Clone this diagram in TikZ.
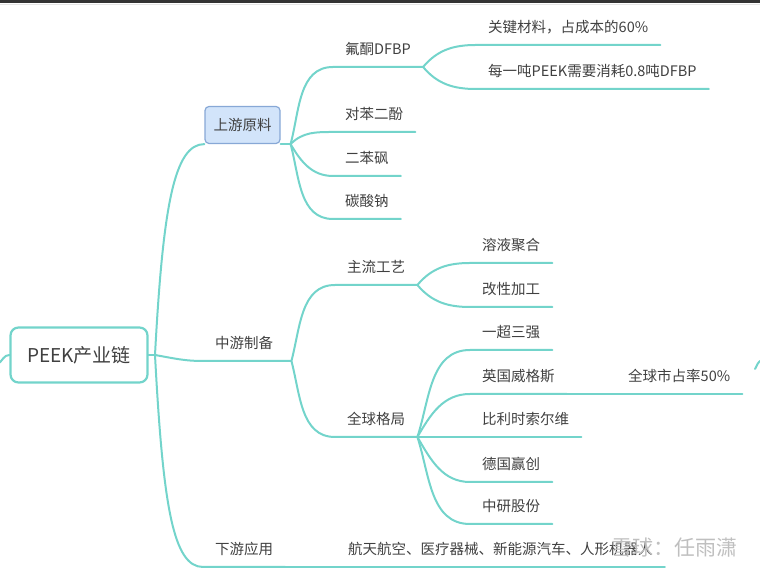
\documentclass[tikz,border=0pt]{standalone}
\usepackage{fontspec}
\setmainfont{Noto Sans CJK SC}
\definecolor{linkc}{RGB}{115,212,203}
\definecolor{txt}{RGB}{64,64,64}
\definecolor{boxfill}{RGB}{210,228,250}
\definecolor{boxdraw}{RGB}{135,168,214}
\newcommand{\leaffont}{\fontsize{14.5}{17}\selectfont}

\begin{document}
\begin{tikzpicture}[x=1pt,y=1pt, line join=round, line cap=round,
	link/.style={draw=linkc, line width=2pt},
	leaf/.style={anchor=south west, minimum height=35pt, inner xsep=12pt, inner ysep=0pt, font=\leaffont, text=txt},
	rootbox/.style={draw=linkc, line width=2.2pt, rounded corners=8pt, fill=white, minimum width=137pt, minimum height=55pt, font=\fontsize{19}{22}\selectfont, text=txt},
	topicbox/.style={draw=boxdraw, line width=1.2pt, rounded corners=4pt, fill=boxfill, minimum width=75pt, minimum height=37pt, font=\leaffont, text=txt}]
	\useasboundingbox (0,0) rectangle (760,577);
	\fill[black!80] (0,574) rectangle (760,577);
	\draw[black!10] (0,573)--(760,573);
	% root
	\node[rootbox] (root) at (79,222) {PEEK产业链};
	\coordinate (rootH) at (155,222);
	\coordinate (offL) at (-2,213);
	\draw[link] (root.west) to[out=180,in=35] (offL);
	% first level
	\node[topicbox] (up) at (242.5,452) {上游原料};
	\node[leaf] (mid) at (203,216) {中游制备};
	\node[leaf] (low) at (203,10) {下游应用};
	\coordinate (upH) at ([xshift=10pt]up.south east);
	\coordinate (midH) at ([xshift=6pt]mid.south east);
	\draw[link] (root.east)--(rootH);
	\draw[link] (rootH) .. controls +(8,150) and +(-30,0) .. (up.south west);
	\draw[link] (rootH) to[out=-10,in=180] (mid.south west)--(midH);
	\draw[link] (rootH) .. controls +(8,-150) and +(-30,0) .. (low.south west)--(low.south east);
	\draw[link] (up.south east)--(upH);
	% raw materials
	\foreach \n/\t/\y/\a in {dfbp/氟酮DFBP/510/75, hq/对苯二酚/445/45, dps/二苯砜/401/-60, soda/碳酸钠/358/-75}{
		\node[leaf] (\n) at (333,\y) {\t};
		\draw[link] (upH) to[out=\a,in=180] (\n.south west)--(\n.south east);}
	\foreach \n/\t/\y/\a in {cost/关键材料，占成本的60\%/532/50, ratio/每一吨PEEK需要消耗0.8吨DFBP/488/-50}{
		\node[leaf] (\n) at (476,\y) {\t};
		\draw[link] (dfbp.south east) to[out=\a,in=180] (\n.south west)--(\n.south east);}
	% production
	\foreach \n/\t/\y/\a in {proc/主流工艺/292/75, glob/全球格局/140/-75}{
		\node[leaf] (\n) at (335,\y) {\t};
		\draw[link] (midH) to[out=\a,in=180] (\n.south west)--(\n.south east);}
	\foreach \n/\t/\y/\a in {sol/溶液聚合/314/50, mod/改性加工/270/-50}{
		\node[leaf] (\n) at (470,\y) {\t};
		\draw[link] (proc.south east) to[out=\a,in=180] (\n.south west)--(\n.south east);}
	\foreach \n/\t/\y/\a in {big/一超三强/227/72, vic/英国威格斯/183/60, solv/比利时索尔维/140/0, evo/德国赢创/95/-60, zy/中研股份/53/-72}{
		\node[leaf] (\n) at (470,\y) {\t};
		\draw[link] (glob.south east) to[out=\a,in=180] (\n.south west)--(\n.south east);}
	\node[leaf] (share) at (616,183) {全球市占率50\%};
	\draw[link] (vic.south east)--(share.south west)--(share.south east);
	% applications
	\node[leaf] (app) at (336,10) {航天航空、医疗器械、新能源汽车、人形机器人};
	\draw[link] (low.south east)--(app.south west)--(app.south east);
	\node[text=black!25, font=\fontsize{21}{24}\selectfont] (mark) at (674,29) {雪球：任雨潇};
	\coordinate (offR1) at (755,208);
	\coordinate (offR2) at (762,217);
	\draw[link] (offR1) to[out=60,in=200] (offR2);
\end{tikzpicture}
\end{document}
